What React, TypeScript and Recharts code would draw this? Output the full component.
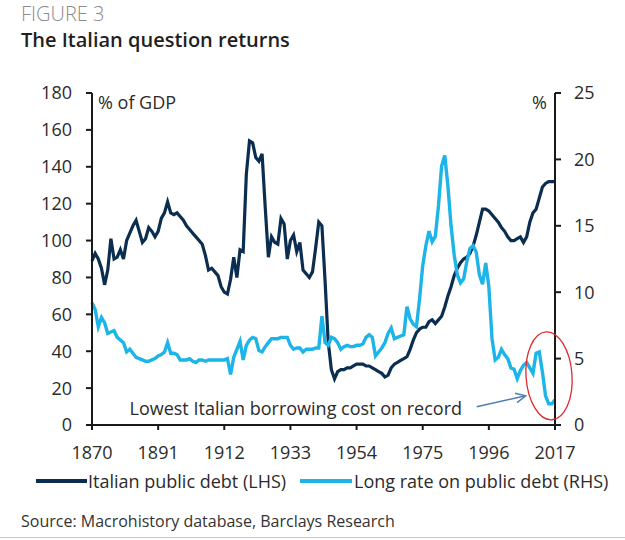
import React from 'react'
import { LineChart, Line, XAxis, YAxis, ReferenceDot } from 'recharts'

// Italian public debt, % of GDP (LHS), one value per year from 1870
const FIRST_YEAR = 1870
const debtPct = [
  89, 93, 90, 85, 76, 84, 101, 90, 91, 95,
  90, 100, 104, 108, 111, 105, 99, 101, 107, 105,
  102, 105, 112, 115, 121, 115, 114, 115, 113, 111,
  108, 106, 104, 102, 100, 98, 92, 84, 85, 83,
  81, 75, 72, 71, 79, 91, 80, 95, 94, 136,
  154, 153, 145, 143, 147, 118, 91, 102, 99, 98,
  112, 109, 90, 100, 103, 94, 99, 84, 82, 80,
  83, 96, 110, 108, 78, 45, 30, 25, 29, 30,
  30, 31, 31, 32, 33, 33, 33, 32, 32, 31,
  30, 29, 28, 26, 27, 31, 33, 34, 35, 36,
  37, 41, 46, 50, 52, 53, 53, 56, 57, 55,
  57, 59, 64, 70, 75, 81, 85, 88, 90, 91,
  93, 97, 103, 110, 117, 117, 116, 114, 112, 110,
  107, 105, 102, 100, 100, 101, 102, 99, 102, 110,
  115, 117, 123, 129, 131, 132, 132, 132,
]

// Long rate on public debt, % (RHS)
const longRate = [
  9.2, 8.7, 7.4, 8.1, 7.7, 6.9, 7.0, 7.1, 6.6, 6.4,
  6.2, 5.5, 5.7, 5.4, 5.1, 5.0, 4.9, 4.8, 4.8, 4.9,
  5.0, 5.2, 5.3, 5.5, 6.2, 5.4, 5.4, 5.3, 4.9, 4.9,
  4.9, 5.0, 4.8, 4.7, 4.9, 4.9, 4.8, 4.9, 4.9, 4.9,
  4.9, 4.9, 4.9, 5.0, 3.8, 5.1, 5.7, 6.3, 4.9, 6.0,
  6.4, 6.6, 6.5, 5.6, 5.5, 5.9, 6.2, 6.5, 6.5, 6.5,
  6.6, 6.6, 6.6, 6.0, 5.7, 5.8, 5.8, 5.5, 5.7, 5.7,
  5.7, 5.8, 5.8, 8.2, 6.2, 6.0, 6.6, 6.5, 6.2, 5.7,
  5.9, 6.0, 5.9, 5.9, 6.0, 6.0, 6.1, 6.6, 6.8, 6.6,
  5.2, 5.5, 5.8, 6.2, 6.9, 7.3, 6.5, 6.6, 6.7, 6.8,
  8.9, 8.0, 7.6, 7.4, 9.5, 12.0, 13.5, 14.6, 13.8, 14.2,
  16.5, 19.5, 20.3, 18.0, 15.0, 12.8, 11.3, 10.7, 11.0, 12.3,
  13.3, 13.5, 13.0, 11.3, 10.6, 12.2, 10.4, 6.5, 4.9, 5.1,
  5.7, 5.3, 5.0, 4.3, 4.2, 3.5, 4.1, 4.5, 4.7, 4.3,
  3.9, 5.4, 5.5, 4.0, 2.2, 1.6, 1.6, 1.9,
]

const xTicks = [1870, 1891, 1912, 1933, 1954, 1975, 1996, 2017]
const leftTicks = [0, 20, 40, 60, 80, 100, 120, 140, 160, 180]
const rightTicks = [0, 5, 10, 15, 20, 25]

const data = debtPct.map((d, i) => ({
  year: FIRST_YEAR + i,
  debt: d,
  rate: longRate[i],
}))

const FONT = "'Open Sans', sans-serif"
const AXIS = '#1a1a1a'
const TEXT = '#2b2b2b'
const NAVY = '#0b2d4f'
const SKY = '#1db4e8'

// eslint-disable-next-line @typescript-eslint/no-explicit-any
const NoteText = (props: any) => (
  <text
    x={props.cx}
    y={props.cy}
    textAnchor="middle"
    dominantBaseline="central"
    fontSize={18}
    fontFamily={FONT}
    fill={TEXT}
  >
    Lowest Italian borrowing cost on record
  </text>
)

// eslint-disable-next-line @typescript-eslint/no-explicit-any
const NoteArrow = (props: any) => {
  const { cx, cy } = props
  const tx = cx - 49
  const ty = cy + 11
  const ang = Math.atan2(cy - ty, cx - tx)
  const len = 11
  const a1 = ang + Math.PI - 0.45
  const a2 = ang + Math.PI + 0.45
  return (
    <g stroke="#4f7db3" strokeWidth={1.4} fill="none">
      <line x1={tx} y1={ty} x2={cx} y2={cy} />
      <polyline
        points={`${cx + len * Math.cos(a1)},${cy + len * Math.sin(a1)} ${cx},${cy} ${
          cx + len * Math.cos(a2)
        },${cy + len * Math.sin(a2)}`}
      />
    </g>
  )
}

// eslint-disable-next-line @typescript-eslint/no-explicit-any
const RedRing = (props: any) => (
  <ellipse
    cx={props.cx}
    cy={props.cy}
    rx={23}
    ry={44}
    fill="none"
    stroke="#e0282e"
    strokeWidth={1.3}
    transform={`rotate(-4 ${props.cx} ${props.cy})`}
  />
)

const abs = (left: number, top: number): React.CSSProperties => ({
  position: 'absolute',
  left,
  top,
  whiteSpace: 'nowrap',
})

export default function App() {
  return (
    <div
      style={{
        position: 'absolute',
        left: 0,
        top: 0,
        width: 625,
        height: 540,
        background: '#fff',
        fontFamily: FONT,
        color: TEXT,
        overflow: 'hidden',
      }}
    >
      <div style={{ ...abs(21, 2), fontSize: 20, lineHeight: '24px', fontWeight: 300, color: '#8a8a8a' }}>
        FIGURE 3
      </div>
      <div style={{ ...abs(21, 28), fontSize: 20, lineHeight: '24px', fontWeight: 600, color: '#1f1f1f' }}>
        The Italian question returns
      </div>

      <div style={{ position: 'absolute', left: 0, top: 0 }}>
        <LineChart width={625} height={470} data={data} margin={{ top: 93, right: 0, bottom: 0, left: 0 }}>
          <XAxis
            dataKey="year"
            type="number"
            domain={[1870, 2017]}
            ticks={xTicks}
            height={45}
            tickSize={5}
            tickMargin={16}
            axisLine={{ stroke: AXIS, strokeWidth: 2 }}
            tickLine={{ stroke: AXIS, strokeWidth: 2 }}
            tick={{ fontSize: 18, fill: TEXT, fontFamily: FONT }}
          />
          <YAxis
            yAxisId="left"
            orientation="left"
            width={92}
            domain={[0, 180]}
            ticks={leftTicks}
            tickSize={6}
            tickMargin={14}
            axisLine={{ stroke: AXIS, strokeWidth: 2 }}
            tickLine={{ stroke: AXIS, strokeWidth: 2 }}
            tick={{ fontSize: 18, fill: TEXT, fontFamily: FONT }}
          />
          <YAxis
            yAxisId="right"
            orientation="right"
            width={70}
            domain={[0, 25]}
            ticks={rightTicks}
            tickSize={6}
            tickMargin={13}
            axisLine={{ stroke: AXIS, strokeWidth: 2 }}
            tickLine={{ stroke: AXIS, strokeWidth: 2 }}
            tick={{ fontSize: 18, fill: TEXT, fontFamily: FONT }}
          />
          <Line
            yAxisId="left"
            dataKey="debt"
            type="linear"
            stroke={NAVY}
            strokeWidth={3.2}
            dot={false}
            isAnimationActive={false}
          />
          <Line
            yAxisId="right"
            dataKey="rate"
            type="linear"
            stroke={SKY}
            strokeWidth={3.4}
            dot={false}
            isAnimationActive={false}
          />
          <ReferenceDot yAxisId="right" x={1934.7} y={1.3} shape={NoteText} />
          <ReferenceDot yAxisId="right" x={2007.7} y={2.2} shape={NoteArrow} />
          <ReferenceDot yAxisId="right" x={2015.1} y={3.7} shape={RedRing} />
        </LineChart>
      </div>

      <div style={{ ...abs(98, 90), fontSize: 18, lineHeight: '24px' }}>% of GDP</div>
      <div style={{ ...abs(532, 90), fontSize: 18, lineHeight: '24px' }}>%</div>

      {/* legend */}
      <div style={{ position: 'absolute', left: 36, top: 479, width: 51, height: 4, background: NAVY }} />
      <div style={{ ...abs(88, 469), fontSize: 18, lineHeight: '24px' }}>Italian public debt (LHS)</div>
      <div style={{ position: 'absolute', left: 300, top: 479, width: 52, height: 4, background: SKY }} />
      <div style={{ ...abs(354, 469), fontSize: 18, lineHeight: '24px' }}>Long rate on public debt (RHS)</div>

      <div style={{ ...abs(21, 510), fontSize: 16, lineHeight: '22px', color: '#333' }}>
        Source: Macrohistory database, Barclays Research
      </div>
      <div style={{ position: 'absolute', left: 0, top: 537, width: 625, height: 1, background: '#c8c8c8' }} />
    </div>
  )
}
